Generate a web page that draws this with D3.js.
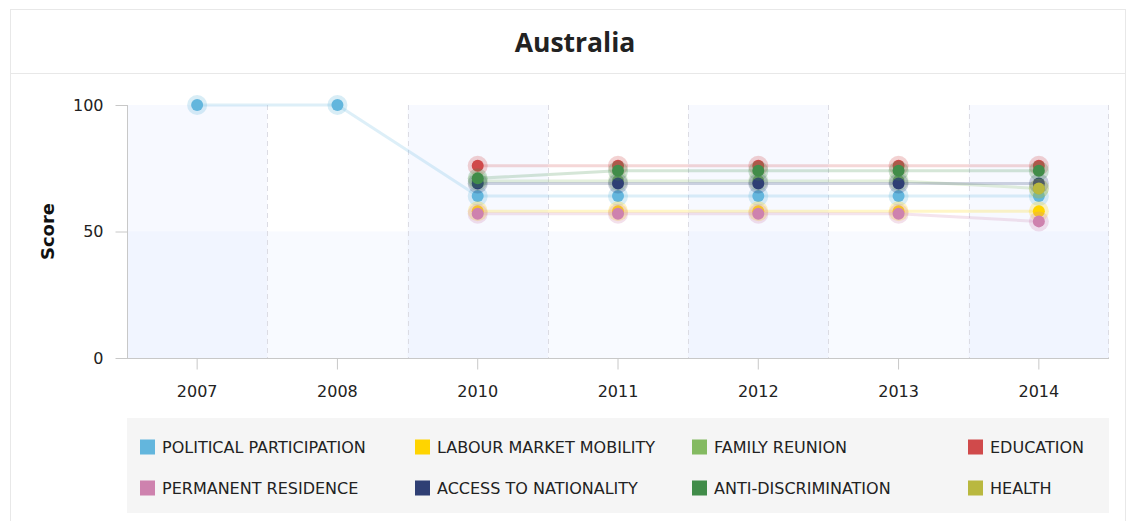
<!DOCTYPE html>
<html>
<head>
<meta charset="utf-8">
<script src="https://cdn.jsdelivr.net/npm/d3@7"></script>
<style>
  html, body { margin: 0; padding: 0; background: #fff; }
  svg { display: block; font-family: "DejaVu Sans", Verdana, sans-serif; }
</style>
</head>
<body>
<svg id="chart" width="1133" height="521"></svg>
<script>
// Years on the category axis
const years = ["2007", "2008", "2010", "2011", "2012", "2013", "2014"];

// Scores per policy strand (null = not assessed that year)
const politicalParticipation = [100, 100, 64, 64, 64, 64, 64];
const labourMarketMobility   = [null, null, 58, 58, 58, 58, 58];
const familyReunion          = [null, null, 70, 70, 70, 70, 67];
const education              = [null, null, 76, 76, 76, 76, 76];
const permanentResidence     = [null, null, 57, 57, 57, 57, 54];
const accessToNationality    = [null, null, 69, 69, 69, 69, 69];
const antiDiscrimination     = [null, null, 71, 74, 74, 74, 74];
const health                 = [null, null, null, null, null, null, 67];

const yTicks = [0, 50, 100];

const series = [
  { name: "POLITICAL PARTICIPATION", color: "#63b6dd", values: politicalParticipation },
  { name: "LABOUR MARKET MOBILITY",  color: "#ffd400", values: labourMarketMobility },
  { name: "FAMILY REUNION",          color: "#84ba61", values: familyReunion },
  { name: "EDUCATION",               color: "#d04a4b", values: education },
  { name: "PERMANENT RESIDENCE",     color: "#ce82ae", values: permanentResidence },
  { name: "ACCESS TO NATIONALITY",   color: "#2f3f74", values: accessToNationality },
  { name: "ANTI-DISCRIMINATION",     color: "#418c49", values: antiDiscrimination },
  { name: "HEALTH",                  color: "#b9b83f", values: health }
];

const svg = d3.select("#chart");

// Card frame and header
svg.append("rect").attr("x", 10.5).attr("y", 9.5).attr("width", 1115).attr("height", 530)
  .attr("fill", "#fff").attr("stroke", "#e8e8e8");
svg.append("line").attr("x1", 10).attr("x2", 1126).attr("y1", 73.5).attr("y2", 73.5)
  .attr("stroke", "#e8e8e8");
svg.append("text").attr("x", 575).attr("y", 52).attr("text-anchor", "middle")
  .attr("font-family", "'Open Sans', 'DejaVu Sans', sans-serif")
  .attr("font-weight", 700).attr("font-size", 26.5).attr("fill", "#222")
  .text("Australia");

// Plot area
const plotLeft = 127, plotRight = 1109, plotTop = 105, plotBottom = 358;
const x = d3.scaleBand().domain(years).range([plotLeft, plotRight]).padding(0);
const y = d3.scaleLinear().domain([0, 100]).range([plotBottom, plotTop]);
const cx = d => x(d) + x.bandwidth() / 2;

const g = svg.append("g");

// Alternating column bands
g.selectAll("rect.xband").data(years.filter((d, i) => i % 2 === 0)).join("rect")
  .attr("class", "xband")
  .attr("x", d => x(d)).attr("width", x.bandwidth())
  .attr("y", y(100)).attr("height", y(0) - y(100))
  .attr("fill", "rgb(225,232,255)").attr("fill-opacity", 0.25);

// Lower score band 0–50
g.append("rect").attr("x", plotLeft).attr("width", plotRight - plotLeft)
  .attr("y", y(50)).attr("height", y(0) - y(50))
  .attr("fill", "rgb(225,232,255)").attr("fill-opacity", 0.22);

// Dashed separators between years
g.selectAll("line.sep").data(years.slice(1).concat(["end"])).join("line")
  .attr("class", "sep")
  .attr("x1", d => d === "end" ? plotRight - 0.5 : Math.round(x(d)) + 0.5)
  .attr("x2", d => d === "end" ? plotRight - 0.5 : Math.round(x(d)) + 0.5)
  .attr("y1", y(100)).attr("y2", y(0))
  .attr("stroke", "#dcdce4").attr("stroke-dasharray", "5,4");

// Axes
const yAxis = d3.axisLeft(y).tickValues(yTicks).tickSize(12).tickPadding(12);
const yG = svg.append("g").attr("transform", `translate(${plotLeft + 0.5},0)`).call(yAxis);
yG.select(".domain").attr("stroke", "#c8c8c8").attr("d", `M0,${y(100)}V${y(0)}`);
yG.selectAll(".tick line").attr("stroke", "#c8c8c8");
yG.selectAll(".tick text").attr("font-size", 16).attr("fill", "#222")
  .attr("font-family", "'DejaVu Sans', Verdana, sans-serif");

const xAxis = d3.axisBottom(x).tickSize(11).tickPadding(16);
const xG = svg.append("g").attr("transform", `translate(0,${plotBottom + 0.5})`).call(xAxis);
xG.select(".domain").attr("stroke", "#c8c8c8").attr("d", `M${plotLeft},0H${plotRight}`);
xG.selectAll(".tick line").attr("stroke", "#c8c8c8");
xG.selectAll(".tick text").attr("font-size", 16).attr("fill", "#222")
  .attr("font-family", "'DejaVu Sans', Verdana, sans-serif");

svg.append("text")
  .attr("transform", `translate(54,${(plotTop + plotBottom) / 2}) rotate(-90)`)
  .attr("text-anchor", "middle").attr("font-weight", 700).attr("font-size", 18)
  .attr("fill", "#111").text("Score");

// Series lines and markers
const line = d3.line()
  .defined(d => d.v !== null)
  .x(d => cx(d.year)).y(d => y(d.v));

series.forEach(s => {
  const pts = years.map((yr, i) => ({ year: yr, v: s.values[i] }));
  const sg = svg.append("g");
  sg.append("path").datum(pts).attr("d", line)
    .attr("fill", "none").attr("stroke", s.color)
    .attr("stroke-width", 3).attr("stroke-opacity", 0.22);
  const valid = pts.filter(d => d.v !== null);
  sg.selectAll("circle.halo").data(valid).join("circle")
    .attr("class", "halo")
    .attr("cx", d => cx(d.year)).attr("cy", d => y(d.v)).attr("r", 10)
    .attr("fill", s.color).attr("fill-opacity", 0.25);
  sg.selectAll("circle.dot").data(valid).join("circle")
    .attr("class", "dot")
    .attr("cx", d => cx(d.year)).attr("cy", d => y(d.v)).attr("r", 6)
    .attr("fill", s.color);
});

// Legend
svg.append("rect").attr("x", plotLeft).attr("y", 418).attr("width", plotRight - plotLeft).attr("height", 95)
  .attr("fill", "#f5f5f5");
const colX = [140, 415, 692, 968];
const rowY = [447, 488];
series.forEach((s, i) => {
  const lx = colX[i % 4], ly = rowY[Math.floor(i / 4)];
  svg.append("rect").attr("x", lx).attr("y", ly - 7.5).attr("width", 15).attr("height", 15)
    .attr("fill", s.color);
  svg.append("text").attr("x", lx + 22).attr("y", ly + 6)
    .attr("font-size", 16).attr("fill", "#222").text(s.name);
});
</script>
</body>
</html>
